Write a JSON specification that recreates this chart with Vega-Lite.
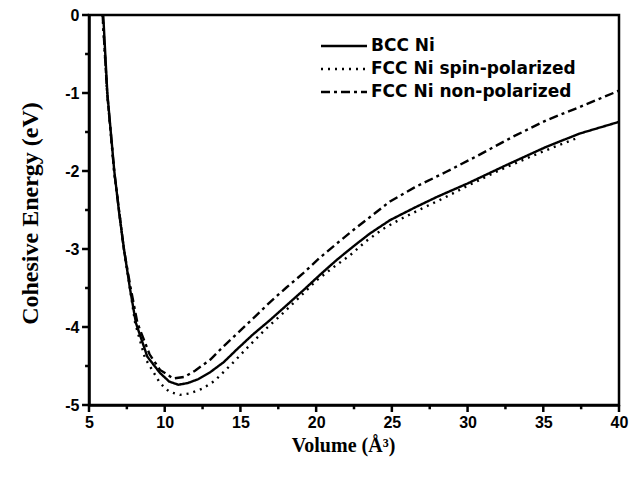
{
  "$schema": "https://vega.github.io/schema/vega-lite/v6.json",
  "width": 530,
  "height": 390,
  "autosize": {"type": "none"},
  "padding": {"left": 89, "top": 15, "right": 15, "bottom": 72},
  "background": "white",
  "config": {
    "view": {"stroke": "black", "strokeWidth": 2.5},
    "font": "Liberation Sans"
  },
  "datasets": {
    "curves": [
      {"s": "BCC Ni", "V": 5.94, "E": 0},
      {"s": "BCC Ni", "V": 6.21, "E": -1.0},
      {"s": "BCC Ni", "V": 6.67, "E": -2.0},
      {"s": "BCC Ni", "V": 7.0, "E": -2.55},
      {"s": "BCC Ni", "V": 7.31, "E": -3.0},
      {"s": "BCC Ni", "V": 7.7, "E": -3.5},
      {"s": "BCC Ni", "V": 8.1, "E": -3.95},
      {"s": "BCC Ni", "V": 8.85, "E": -4.38},
      {"s": "BCC Ni", "V": 9.69, "E": -4.59},
      {"s": "BCC Ni", "V": 10.3, "E": -4.7},
      {"s": "BCC Ni", "V": 10.9, "E": -4.74},
      {"s": "BCC Ni", "V": 11.5, "E": -4.72},
      {"s": "BCC Ni", "V": 12.2, "E": -4.67},
      {"s": "BCC Ni", "V": 13.0, "E": -4.58},
      {"s": "BCC Ni", "V": 13.9, "E": -4.45},
      {"s": "BCC Ni", "V": 14.75, "E": -4.29},
      {"s": "BCC Ni", "V": 15.8, "E": -4.1},
      {"s": "BCC Ni", "V": 16.96, "E": -3.91},
      {"s": "BCC Ni", "V": 18.0, "E": -3.73},
      {"s": "BCC Ni", "V": 19.15, "E": -3.53},
      {"s": "BCC Ni", "V": 20.2, "E": -3.34},
      {"s": "BCC Ni", "V": 21.36, "E": -3.14},
      {"s": "BCC Ni", "V": 22.5, "E": -2.96},
      {"s": "BCC Ni", "V": 23.56, "E": -2.8},
      {"s": "BCC Ni", "V": 24.88, "E": -2.63},
      {"s": "BCC Ni", "V": 26.5, "E": -2.47},
      {"s": "BCC Ni", "V": 28.0, "E": -2.33},
      {"s": "BCC Ni", "V": 30.0, "E": -2.16},
      {"s": "BCC Ni", "V": 32.5, "E": -1.93},
      {"s": "BCC Ni", "V": 35.2, "E": -1.69},
      {"s": "BCC Ni", "V": 37.4, "E": -1.52},
      {"s": "BCC Ni", "V": 40.0, "E": -1.37},

      {"s": "FCC Ni spin-polarized", "V": 5.9, "E": 0},
      {"s": "FCC Ni spin-polarized", "V": 6.2, "E": -1.0},
      {"s": "FCC Ni spin-polarized", "V": 6.66, "E": -2.0},
      {"s": "FCC Ni spin-polarized", "V": 7.3, "E": -3.0},
      {"s": "FCC Ni spin-polarized", "V": 7.7, "E": -3.5},
      {"s": "FCC Ni spin-polarized", "V": 8.05, "E": -3.95},
      {"s": "FCC Ni spin-polarized", "V": 8.7, "E": -4.4},
      {"s": "FCC Ni spin-polarized", "V": 9.69, "E": -4.72},
      {"s": "FCC Ni spin-polarized", "V": 10.3, "E": -4.83},
      {"s": "FCC Ni spin-polarized", "V": 11.0, "E": -4.87},
      {"s": "FCC Ni spin-polarized", "V": 11.7, "E": -4.85},
      {"s": "FCC Ni spin-polarized", "V": 12.5, "E": -4.79},
      {"s": "FCC Ni spin-polarized", "V": 13.3, "E": -4.69},
      {"s": "FCC Ni spin-polarized", "V": 14.5, "E": -4.46},
      {"s": "FCC Ni spin-polarized", "V": 15.63, "E": -4.23},
      {"s": "FCC Ni spin-polarized", "V": 16.7, "E": -4.02},
      {"s": "FCC Ni spin-polarized", "V": 17.83, "E": -3.82},
      {"s": "FCC Ni spin-polarized", "V": 18.94, "E": -3.61},
      {"s": "FCC Ni spin-polarized", "V": 20.04, "E": -3.4},
      {"s": "FCC Ni spin-polarized", "V": 21.1, "E": -3.24},
      {"s": "FCC Ni spin-polarized", "V": 22.24, "E": -3.08},
      {"s": "FCC Ni spin-polarized", "V": 23.3, "E": -2.9},
      {"s": "FCC Ni spin-polarized", "V": 24.44, "E": -2.74},
      {"s": "FCC Ni spin-polarized", "V": 25.54, "E": -2.62},
      {"s": "FCC Ni spin-polarized", "V": 27.0, "E": -2.48},
      {"s": "FCC Ni spin-polarized", "V": 28.5, "E": -2.34},
      {"s": "FCC Ni spin-polarized", "V": 30.0, "E": -2.19},
      {"s": "FCC Ni spin-polarized", "V": 32.0, "E": -2.0},
      {"s": "FCC Ni spin-polarized", "V": 34.35, "E": -1.8},
      {"s": "FCC Ni spin-polarized", "V": 36.0, "E": -1.67},
      {"s": "FCC Ni spin-polarized", "V": 37.2, "E": -1.58},

      {"s": "FCC Ni non-polarized", "V": 5.9, "E": 0},
      {"s": "FCC Ni non-polarized", "V": 6.2, "E": -1.0},
      {"s": "FCC Ni non-polarized", "V": 6.66, "E": -2.0},
      {"s": "FCC Ni non-polarized", "V": 7.3, "E": -3.0},
      {"s": "FCC Ni non-polarized", "V": 7.75, "E": -3.5},
      {"s": "FCC Ni non-polarized", "V": 8.2, "E": -3.95},
      {"s": "FCC Ni non-polarized", "V": 9.0, "E": -4.35},
      {"s": "FCC Ni non-polarized", "V": 9.69, "E": -4.55},
      {"s": "FCC Ni non-polarized", "V": 10.57, "E": -4.66},
      {"s": "FCC Ni non-polarized", "V": 11.3, "E": -4.64},
      {"s": "FCC Ni non-polarized", "V": 12.0, "E": -4.56},
      {"s": "FCC Ni non-polarized", "V": 13.0, "E": -4.42},
      {"s": "FCC Ni non-polarized", "V": 13.87, "E": -4.25},
      {"s": "FCC Ni non-polarized", "V": 14.97, "E": -4.05},
      {"s": "FCC Ni non-polarized", "V": 16.0, "E": -3.86},
      {"s": "FCC Ni non-polarized", "V": 16.96, "E": -3.68},
      {"s": "FCC Ni non-polarized", "V": 18.0, "E": -3.5},
      {"s": "FCC Ni non-polarized", "V": 19.15, "E": -3.31},
      {"s": "FCC Ni non-polarized", "V": 20.2, "E": -3.12},
      {"s": "FCC Ni non-polarized", "V": 21.36, "E": -2.93},
      {"s": "FCC Ni non-polarized", "V": 22.5, "E": -2.75},
      {"s": "FCC Ni non-polarized", "V": 23.56, "E": -2.59},
      {"s": "FCC Ni non-polarized", "V": 24.88, "E": -2.39},
      {"s": "FCC Ni non-polarized", "V": 26.5, "E": -2.21},
      {"s": "FCC Ni non-polarized", "V": 28.6, "E": -2.01},
      {"s": "FCC Ni non-polarized", "V": 30.8, "E": -1.79},
      {"s": "FCC Ni non-polarized", "V": 33.0, "E": -1.56},
      {"s": "FCC Ni non-polarized", "V": 35.2, "E": -1.35},
      {"s": "FCC Ni non-polarized", "V": 37.4, "E": -1.18},
      {"s": "FCC Ni non-polarized", "V": 40.0, "E": -0.97}
    ],
    "xt": [
      {"V": 5}, {"V": 7.5}, {"V": 10}, {"V": 12.5}, {"V": 15}, {"V": 17.5}, {"V": 20}, {"V": 22.5},
      {"V": 25}, {"V": 27.5}, {"V": 30}, {"V": 32.5}, {"V": 35}, {"V": 37.5}, {"V": 40}
    ],
    "yt": [
      {"E": 0}, {"E": -0.5}, {"E": -1}, {"E": -1.5}, {"E": -2}, {"E": -2.5},
      {"E": -3}, {"E": -3.5}, {"E": -4}, {"E": -4.5}, {"E": -5}
    ]
  },
  "layer": [
    {
      "data": {"name": "curves"},
      "mark": {"type": "line", "color": "black", "strokeWidth": 2.4, "clip": true},
      "encoding": {
        "x": {
          "field": "V", "type": "quantitative",
          "scale": {"domain": [5, 40], "nice": false, "zero": false},
          "axis": {
            "values": [5, 10, 15, 20, 25, 30, 35, 40],
            "grid": false,
            "ticks": false,
            "domainColor": "black", "domainWidth": 2.5,
            "labelFont": "Liberation Sans", "labelFontWeight": "bold", "labelFontSize": 16, "labelColor": "black",
            "labelPadding": 9, "labelFlush": false, "labelOverlap": false,
            "title": "Volume (Å³)",
            "titleFont": "Liberation Serif", "titleFontWeight": "bold", "titleFontSize": 20, "titleColor": "black",
            "titleX": 254, "titleAlign": "center", "titleY": 40, "titleBaseline": "middle"
          }
        },
        "y": {
          "field": "E", "type": "quantitative",
          "scale": {"domain": [-5, 0], "nice": false, "zero": false},
          "axis": {
            "values": [0, -1, -2, -3, -4, -5],
            "labelExpr": "'' + datum.value",
            "grid": false,
            "ticks": false,
            "domainColor": "black", "domainWidth": 2.5,
            "labelFont": "Liberation Sans", "labelFontWeight": "bold", "labelFontSize": 16, "labelColor": "black",
            "labelPadding": 10, "labelFlush": false, "labelOverlap": false,
            "title": "Cohesive Energy (eV)",
            "titleFont": "Liberation Serif", "titleFontWeight": "bold", "titleFontSize": 24, "titleColor": "black",
            "titleX": -59, "titleY": 198, "titleBaseline": "middle", "titleAlign": "center", "titleAngle": -90
          }
        },
        "strokeDash": {
          "field": "s", "type": "nominal",
          "scale": {
            "domain": ["BCC Ni", "FCC Ni spin-polarized", "FCC Ni non-polarized"],
            "range": [[1, 0], [2, 5], [9, 4, 3, 4]]
          },
          "legend": {
            "title": null,
            "orient": "none",
            "legendX": 242,
            "legendY": 18,
            "symbolType": "M-2,0L2,0",
            "symbolSize": 529,
            "symbolStrokeWidth": 2.4,
            "symbolStrokeColor": "black",
            "symbolFillColor": "transparent",
            "labelFont": "DejaVu Sans", "labelFontWeight": "bold", "labelFontSize": 17, "labelColor": "black",
            "labelOffset": 14,
            "labelLimit": 400,
            "rowPadding": 2
          }
        }
      }
    },
    {
      "data": {"name": "xt"},
      "transform": [{"filter": "datum.V % 5 === 0"}],
      "mark": {"type": "rule", "color": "black", "strokeWidth": 2.5, "clip": false},
      "encoding": {
        "x": {"field": "V", "type": "quantitative"},
        "y": {"datum": -5, "type": "quantitative"},
        "y2": {"datum": -5.09}
      }
    },
    {
      "data": {"name": "xt"},
      "transform": [{"filter": "datum.V % 5 !== 0"}],
      "mark": {"type": "rule", "color": "black", "strokeWidth": 2.5, "clip": false},
      "encoding": {
        "x": {"field": "V", "type": "quantitative"},
        "y": {"datum": -5, "type": "quantitative"},
        "y2": {"datum": -5.055}
      }
    },
    {
      "data": {"name": "yt"},
      "transform": [{"filter": "datum.E % 1 === 0"}],
      "mark": {"type": "rule", "color": "black", "strokeWidth": 2.5, "clip": false},
      "encoding": {
        "y": {"field": "E", "type": "quantitative"},
        "x": {"datum": 5, "type": "quantitative"},
        "x2": {"datum": 4.54}
      }
    },
    {
      "data": {"name": "yt"},
      "transform": [{"filter": "datum.E % 1 !== 0"}],
      "mark": {"type": "rule", "color": "black", "strokeWidth": 2.5, "clip": false},
      "encoding": {
        "y": {"field": "E", "type": "quantitative"},
        "x": {"datum": 5, "type": "quantitative"},
        "x2": {"datum": 4.74}
      }
    }
  ]
}
